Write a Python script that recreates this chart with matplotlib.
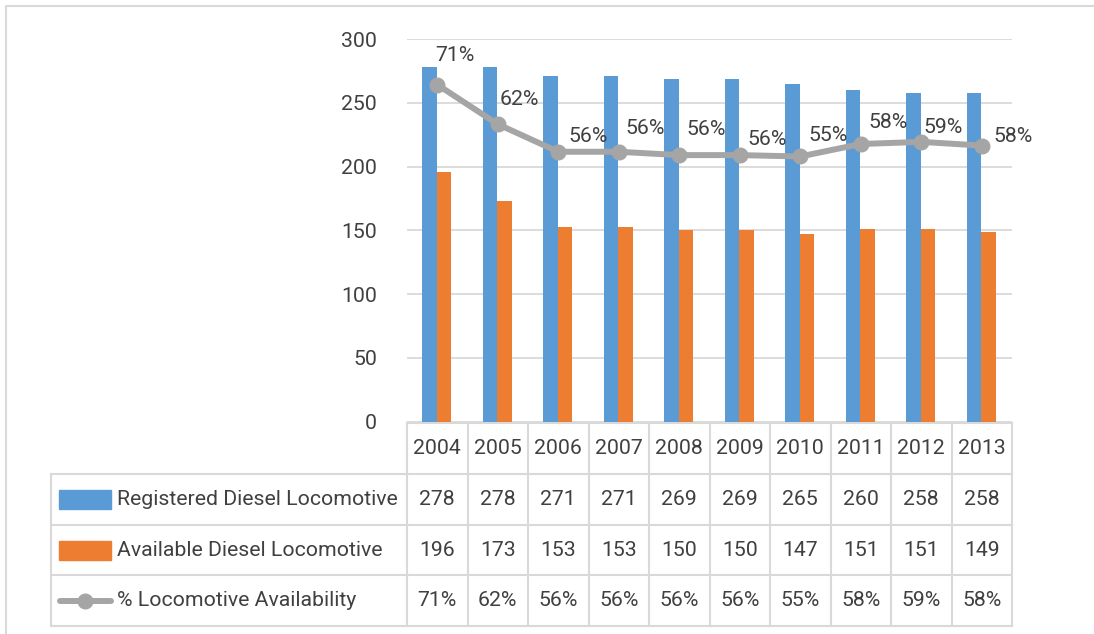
import matplotlib
matplotlib.use("Agg")
import matplotlib.pyplot as plt
from matplotlib.patches import Rectangle
from matplotlib.lines import Line2D

# ---------------- data ----------------
years = ["2004", "2005", "2006", "2007", "2008", "2009", "2010", "2011", "2012", "2013"]
registered = [278, 278, 271, 271, 269, 269, 265, 260, 258, 258]
available = [196, 173, 153, 153, 150, 150, 147, 151, 151, 149]
availability_pct = [70.5, 62.23, 56.46, 56.46, 55.76, 55.76, 55.47, 58.08, 58.53, 57.75]
series_names = ["Registered Diesel Locomotive", "Available Diesel Locomotive",
                "% Locomotive Availability"]
yticks = [0, 50, 100, 150, 200, 250, 300]

# label offsets (pixels: right, up) for the % data labels
label_dx = [-2, 2, 10, 7, 7, 8, 8, 8, 2, 12]
label_dy = [29, 25, 15, 23, 26, 16, 21, 22, 14, 9]

# ---------------- style ----------------
BLUE = "#5B9BD5"
ORANGE = "#ED7D31"
GRAY = "#A5A5A5"
GRID = "#D9D9D9"
TXT = "#404040"
FONT = "Roboto"
FS = 15.3

W, H = 1094, 634
fig = plt.figure(figsize=(W / 100, H / 100), dpi=100)
plt.rcParams["font.family"] = [FONT, "DejaVu Sans"]

# plot area in pixels
PX_L, PX_R = 407, 1012
PX_TOP, PX_BOT = 39.3, 421.5
ax = fig.add_axes([PX_L / W, (H - PX_BOT) / H, (PX_R - PX_L) / W, (PX_BOT - PX_TOP) / H])
n = len(years)
xs = list(range(n))
bw = 0.238
ax.bar([x - bw / 2 - 0.01 for x in xs], registered, width=bw, color=BLUE, zorder=2)
ax.bar([x + bw / 2 - 0.01 for x in xs], available, width=bw, color=ORANGE, zorder=2)
ax.set_xlim(-0.5, n - 0.5)
ax.set_ylim(0, 300)
ax.set_yticks(yticks)
ax.set_yticklabels([str(t) for t in yticks])
ax.set_xticks([])
ax.tick_params(axis="y", length=0, pad=21.6, labelsize=FS, labelcolor=TXT)
ax.yaxis.grid(True, color=GRID, lw=1.3, zorder=0)
ax.set_axisbelow(True)
for s in ax.spines.values():
    s.set_visible(False)

ax2 = ax.twinx()
ax2.set_ylim(0, 80)
ax2.set_axis_off()
ax2.plot(xs, availability_pct, color=GRAY, lw=4.3, marker="o", ms=10.5,
         markerfacecolor=GRAY, markeredgecolor=GRAY, zorder=3, solid_capstyle="round")
for i, v in enumerate(availability_pct):
    ax2.annotate(f"{int(v + 0.5)}%", (i, v), xytext=(label_dx[i] * 0.72, label_dy[i] * 0.72),
                 textcoords="offset points", ha="left", va="center",
                 fontsize=FS, color=TXT)

# ---------------- overlay for table and frame ----------------
ov = fig.add_axes([0, 0, 1, 1], zorder=-1)
ov.set_xlim(0, W)
ov.set_ylim(H, 0)
ov.set_axis_off()

# outer chart frame
ov.plot([6, 6, W + 5], [H + 5, 6, 6], color=GRID, lw=1.5)

col_w = (PX_R - PX_L) / n
row_edges = [423, 474, 525, 575, 626]
LEG_L = 51
lw_t = 1.5
# horizontal lines
ov.plot([PX_L, PX_R], [row_edges[0]] * 2, color=GRID, lw=lw_t)
for y in row_edges[1:]:
    ov.plot([LEG_L, PX_R], [y, y], color=GRID, lw=lw_t)
# vertical lines
ov.plot([LEG_L, LEG_L], [row_edges[1], row_edges[-1]], color=GRID, lw=lw_t)
for i in range(n + 1):
    x = PX_L + i * col_w
    ov.plot([x, x], [row_edges[0], row_edges[-1]], color=GRID, lw=lw_t)

centers_y = [(row_edges[k] + row_edges[k + 1]) / 2 for k in range(4)]
for i in range(n):
    cx = PX_L + (i + 0.5) * col_w
    ov.text(cx, centers_y[0], years[i], ha="center", va="center", fontsize=FS, color=TXT)
    ov.text(cx, centers_y[1], str(registered[i]), ha="center", va="center", fontsize=FS, color=TXT)
    ov.text(cx, centers_y[2], str(available[i]), ha="center", va="center", fontsize=FS, color=TXT)
    ov.text(cx, centers_y[3], f"{int(availability_pct[i] + 0.5)}%", ha="center", va="center",
            fontsize=FS, color=TXT)

# legend keys
ov.add_patch(Rectangle((59, centers_y[1] - 9.5), 52, 19, color=BLUE))
ov.add_patch(Rectangle((59, centers_y[2] - 9.5), 52, 19, color=ORANGE))
ov.add_line(Line2D([60, 111], [centers_y[3], centers_y[3]], color=GRAY, lw=4.3,
                   solid_capstyle="round"))
ov.plot([85], [centers_y[3]], marker="o", ms=10.5, color=GRAY)
for k in range(3):
    ov.text(117, centers_y[k + 1], series_names[k], ha="left", va="center",
            fontsize=FS, color=TXT)

fig.savefig("out.png", dpi=100)
